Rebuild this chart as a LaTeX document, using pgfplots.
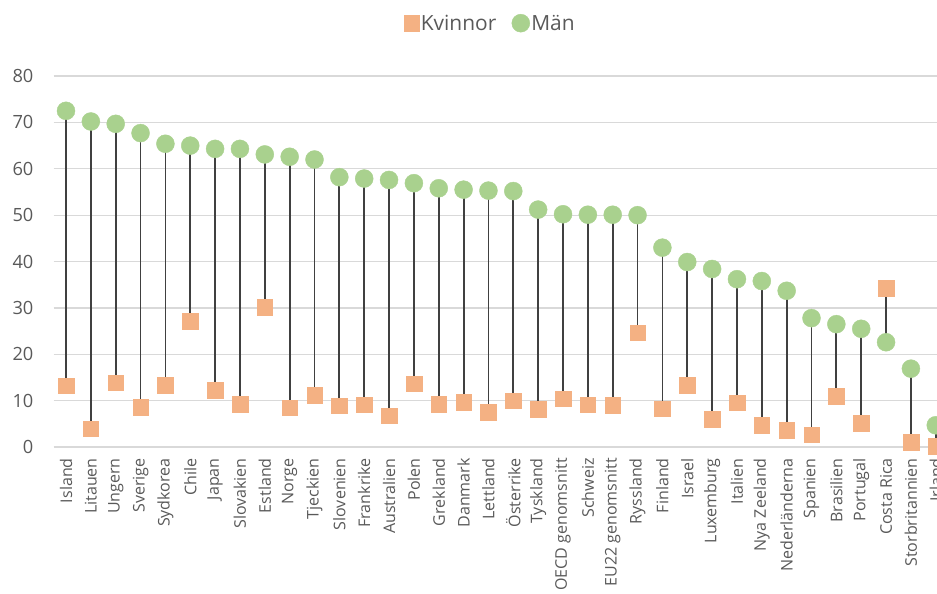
\documentclass[border=0pt]{standalone}
\usepackage{fontspec}
\setmainfont{Open Sans}
\usepackage{pgfplots}
\pgfplotsset{compat=1.18}
\usepackage{pgfplotstable}
\definecolor{kv}{HTML}{F4B183}
\definecolor{mn}{HTML}{A9D18E}
\definecolor{stemc}{HTML}{404040}
\definecolor{grd}{HTML}{D9D9D9}
\definecolor{txt}{HTML}{595959}

\pgfplotstableread{
x k m
0 13.2 72.5
1 4.0 70.2
2 13.9 69.7
3 8.6 67.7
4 13.4 65.4
5 27.2 65.0
6 12.2 64.3
7 9.2 64.3
8 30.2 63.1
9 8.5 62.6
10 11.2 62.0
11 8.9 58.2
12 9.1 57.9
13 6.8 57.6
14 13.7 56.9
15 9.3 55.8
16 9.7 55.5
17 7.5 55.3
18 10.0 55.2
19 8.2 51.2
20 10.4 50.2
21 9.1 50.1
22 9.0 50.1
23 24.7 50.0
24 8.3 43.0
25 13.4 39.9
26 6.0 38.4
27 9.6 36.2
28 4.7 35.8
29 3.6 33.7
30 2.7 27.8
31 11.0 26.5
32 5.2 25.5
33 34.3 22.6
34 1.1 16.9
35 0.2 4.7
}\data

\begin{document}
\begin{tikzpicture}
\begin{axis}[
  x=24.85bp, y=4.6375bp,
  xmin=-0.5, xmax=35.5, ymin=0, ymax=80,
  clip=false,
  axis line style={draw=none},
  major tick length=0pt,
  ytick={0,10,...,80},
  ymajorgrids,
  grid style={grd, line width=1.3bp},
  xtick={0,...,35},
  xticklabels={Island,Litauen,Ungern,Sverige,Sydkorea,Chile,Japan,Slovakien,Estland,Norge,Tjeckien,Slovenien,Frankrike,Australien,Polen,Grekland,Danmark,Lettland,Österrike,Tyskland,OECD genomsnitt,Schweiz,EU22 genomsnitt,Ryssland,Finland,Israel,Luxemburg,Italien,Nya Zeeland,Nederländerna,Spanien,Brasilien,Portugal,Costa Rica,Storbritannien,Irland},
  xticklabel style={rotate=90, anchor=east, inner xsep=11bp, inner ysep=0pt, font=\fontsize{16.1}{17}\selectfont, text=txt},
  yticklabel style={anchor=east, inner sep=0pt, xshift=-20bp, font=\fontsize{18.3}{19}\selectfont, text=txt},
  /pgf/number format/assume math mode=true,
  legend style={draw=none, fill=none, at={(axis description cs:0.4878,1.1425)}, anchor=center, legend columns=2, font=\fontsize{21}{22}\selectfont, text=txt, /tikz/every even column/.append style={column sep=14bp}, nodes={inner xsep=1.5bp}},
  legend cell align=left,
]
\addplot[forget plot, draw=none, mark=none,
  error bars/.cd, y dir=plus, y explicit, error mark=none,
  error bar style={draw=stemc, line width=1.8bp, solid}]
  table[x=x, y=k, y error expr=\thisrow{m}-\thisrow{k}] {\data};
\addplot[only marks, mark=square*, mark size=7.8bp, mark options={draw=kv, fill=kv}] table[x=x, y=k] {\data};
\addlegendentry{Kvinnor}
\addplot[only marks, mark=*, mark size=9bp, mark options={draw=mn, fill=mn}] table[x=x, y=m] {\data};
\addlegendentry{Män}
\coordinate (BL) at (axis cs:-2.656,-31.5);
\coordinate (TR) at (axis cs:35.05,96.4);
\end{axis}
\pgfresetboundingbox
\useasboundingbox (BL) rectangle (TR);
\end{tikzpicture}
\end{document}
